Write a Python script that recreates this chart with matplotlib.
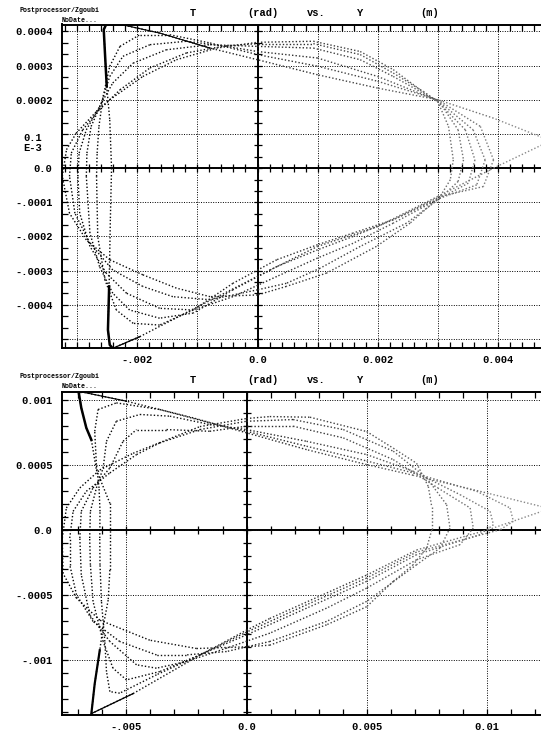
import numpy as np
import matplotlib
matplotlib.use('Agg')
import matplotlib.pyplot as plt
from matplotlib.collections import LineCollection
from matplotlib.ticker import FixedLocator, FixedFormatter, MultipleLocator

plt.rcParams['font.family'] = ['Liberation Mono', 'DejaVu Sans Mono']
plt.rcParams['font.weight'] = 'bold'

# ---- top panel: T (1e-3 rad) vs Y (1e-4 m) ----
top_d0_x = [-3.25, -3.18, -3.02, -2.68, -2.46, -1.91, -1.35, -0.68, 0.0, 0.93, 1.71, 2.26, 2.71, 3.0, 3.18,
            3.26, 3.21, 3.04, 2.54, 1.98, 1.15, 0.48, 0.0, -0.79, -1.35, -1.91, -2.46, -2.85, -3.13, -3.25]
top_d0_y = [-0.24, 0.54, 1.02, 1.66, 2.0, 2.68, 3.17, 3.51, 3.68, 3.71, 3.41, 2.88, 2.29, 1.95, 1.22,
            0.24, -0.34, -0.83, -1.61, -2.29, -3.07, -3.46, -3.71, -3.76, -3.51, -3.12, -2.68, -2.10, -1.32, -0.24]

top_c1_x = [-3.13, -3.1, -2.91, -2.63, -2.29, -1.79, -1.18, -0.52, 0.0, 0.93, 1.71, 2.26, 2.76, 3.04, 3.34,
            3.43, 3.34, 3.04, 2.48, 1.71, 1.04, 0.48, 0.0, -0.79, -1.41, -1.91, -2.41, -2.79, -3.04, -3.13]
top_c1_y = [-0.24, 0.44, 1.12, 1.71, 2.29, 2.93, 3.37, 3.58, 3.64, 3.64, 3.32, 2.78, 2.24, 1.90, 1.12,
            0.24, -0.39, -0.88, -1.61, -2.29, -2.93, -3.37, -3.56, -3.85, -3.76, -3.46, -2.98, -2.20, -1.32, -0.24]

top_c2_x = [-2.99, -2.97, -2.85, -2.63, -2.41, -2.07, -1.52, -0.79, 0.0, 0.93, 1.71, 2.26, 3.0, 3.46, 3.62,
            3.51, 3.04, 2.26, 1.59, 1.0, 0.32, -0.41, -1.07, -1.63, -2.18, -2.52, -2.79, -2.96, -2.99]
top_c2_y = [-0.24, 0.44, 1.12, 1.80, 2.49, 3.07, 3.46, 3.61, 3.56, 3.51, 3.17, 2.68, 1.95, 1.12, 0.24,
            -0.44, -0.88, -1.61, -2.20, -2.63, -3.17, -3.76, -4.15, -4.10, -3.66, -3.07, -2.29, -1.32, -0.24]

top_c3_x = [-2.85, -2.84, -2.77, -2.6, -2.46, -2.24, -1.79, -1.18, -0.52, 0.0, 1.0, 2.0, 3.0, 3.59, 3.79,
            3.65, 3.04, 2.26, 1.59, 1.0, 0.32, -0.41, -1.07, -1.63, -2.13, -2.41, -2.63, -2.79, -2.85]
top_c3_y = [-0.24, 0.44, 1.22, 1.90, 2.68, 3.27, 3.61, 3.71, 3.56, 3.41, 3.22, 2.68, 1.98, 1.12, 0.24,
            -0.49, -0.88, -1.51, -2.0, -2.39, -2.88, -3.56, -4.24, -4.39, -4.15, -3.66, -2.88, -1.90, -0.24]

top_c4_x = [-2.68, -2.67, -2.64, -2.57, -2.46, -2.29, -1.96, -1.46, -0.79, 0.0, 1.0, 2.0, 3.0, 3.71, 3.93,
            3.76, 3.04, 2.26, 1.59, 1.0, 0.32, -0.41, -1.07, -1.63, -2.07, -2.35, -2.54, -2.66, -2.68]
top_c4_y = [-0.24, 0.44, 1.22, 2.10, 2.98, 3.56, 3.90, 3.90, 3.66, 3.32, 2.98, 2.54, 2.0, 1.22, 0.24,
            -0.54, -0.83, -1.51, -1.90, -2.24, -2.68, -3.37, -4.15, -4.59, -4.54, -4.15, -3.27, -2.0, -0.24]

top_outer_x = [-2.27, -2.52, -2.56, -2.54, -2.51, -2.46, -2.43, -2.45, -2.47, -2.49, -2.46, -2.41,
               -1.96, -0.99, 0.21, 1.0, 2.0, 3.0, 3.93, 4.75,
               4.75, 3.93, 3.0, 2.0, 1.0, 0.0, -0.79, -1.63, -2.27]
top_outer_y = [4.2, 4.2, 4.05, 3.37, 2.39, 1.41, 0.0, -1.51, -3.46, -4.73, -5.17, -5.27,
               -4.93, -4.05, -2.98, -2.29, -1.71, -0.83, 0.0, 0.69,
               0.89, 1.46, 2.0, 2.34, 2.73, 3.17, 3.51, 3.95, 4.2]

top_xgrid = [-3, -2, -1, 0, 1, 2, 3, 4]
top_xlabels = ['', '-.002', '', '0.0', '', '0.002', '', '0.004']
top_ygrid = [-5, -4, -3, -2, -1, 0, 1, 2, 3, 4]
top_ylabels = ['', '-.0004', '-.0003', '-.0002', '-.0001', '0.0', '', '0.0002', '0.0003', '0.0004']

# ---- bottom panel ----
bot_d0_x = [-7.67, -7.5, -6.94, -6.11, -4.72, -1.94, 0.0, 0.97, 2.64, 5.0, 6.11, 7.08, 7.57, 7.71, 7.71,
            7.5, 6.94, 6.11, 5.0, 3.33, 0.97, 0.0, -2.08, -4.03, -6.11, -7.08, -7.64, -7.67]
bot_d0_y = [-0.64, 1.67, 3.21, 4.59, 5.87, 7.92, 8.54, 8.69, 8.64, 7.54, 6.26, 5.10, 3.31, 1.77, -0.03,
            -1.41, -2.69, -3.97, -5.92, -7.31, -8.87, -9.0, -9.13, -8.49, -6.95, -5.26, -3.36, -0.64]

bot_c1_x = [-7.36, -7.22, -6.67, -5.69, -4.58, -3.61, -1.94, 0.0, 1.94, 4.03, 6.11, 7.5, 8.33, 8.47,
            8.06, 7.08, 5.0, 3.33, 0.97, -0.83, -2.5, -3.75, -5.28, -6.39, -7.08, -7.36, -7.36]
bot_c1_y = [-0.64, 1.41, 2.95, 4.36, 5.77, 6.67, 7.69, 8.33, 8.46, 7.69, 6.03, 3.97, 1.92, 0.13,
            -1.41, -2.69, -5.51, -7.05, -8.59, -9.36, -9.62, -9.62, -8.59, -7.05, -5.0, -2.69, -0.64]

bot_c2_x = [-6.94, -6.88, -6.39, -5.69, -5.14, -4.58, -3.33, -1.53, 0.0, 1.94, 4.03, 6.11, 7.96, 9.31,
            9.44, 8.89, 7.08, 5.0, 3.33, 0.97, -0.83, -2.5, -3.75, -4.58, -5.69, -6.53, -6.88, -6.94]
bot_c2_y = [-0.64, 1.41, 3.21, 4.74, 6.79, 7.69, 7.69, 7.56, 7.95, 7.95, 7.05, 5.38, 3.21, 1.67,
            0.13, -1.15, -2.31, -4.49, -6.03, -7.95, -9.10, -10.13, -10.64, -10.38, -8.59, -6.54, -3.46, -0.64]

bot_c3_x = [-6.53, -6.5, -6.25, -5.97, -5.83, -5.42, -4.44, -3.19, -1.53, 0.0, 2.5, 5.0, 6.94, 8.89, 10.14,
            10.28, 9.72, 7.08, 5.0, 2.5, 0.0, -1.94, -3.61, -5.0, -5.56, -5.97, -6.39, -6.5, -6.53]
bot_c3_y = [-0.64, 1.41, 3.21, 4.74, 6.79, 8.33, 8.85, 8.72, 8.08, 7.69, 6.79, 5.77, 4.49, 2.69, 1.41,
            0.38, -0.38, -1.92, -3.97, -6.03, -8.08, -9.62, -10.90, -11.54, -10.64, -8.59, -5.51, -2.69, -0.64]

bot_c4_x = [-6.11, -6.10, -6.14, -6.25, -6.32, -6.18, -5.42, -3.61, -1.53, 0.0, 2.5, 5.0, 6.94, 9.58, 10.97,
            11.11, 10.56, 7.08, 5.0, 2.5, 0.0, -1.94, -3.75, -5.28, -5.69, -5.83, -5.90, -6.04, -6.10, -6.11]
bot_c4_y = [-0.64, 1.41, 3.21, 5.0, 7.56, 9.23, 9.74, 9.23, 8.21, 7.56, 6.41, 5.28, 4.36, 2.95, 1.67,
            0.64, 0.0, -1.72, -3.72, -5.77, -7.87, -9.62, -11.15, -12.56, -12.44, -10.90, -8.59, -5.51, -2.69, -0.64]

bot_outer_x = [-6.99, -6.88, -6.67, -6.46, -6.25, -5.69, -5.69, -5.69, -5.76, -5.97, -6.11, -6.32, -6.46,
               -4.72, -1.94, 0.0, 0.97, 5.0, 7.08, 10.07, 12.3,
               12.3, 10.07, 6.94, 5.0, 2.5, 0.0, -2.22, -5.0, -6.88, -6.99]
bot_outer_y = [10.59, 9.36, 7.82, 6.9, 4.59, 2.03, -0.54, -3.10, -5.41, -7.46, -9.26, -11.82, -14.13,
               -12.59, -9.64, -7.72, -6.82, -3.49, -1.56, 0.0, 1.41,
               1.77, 2.79, 4.18, 5.0, 6.15, 7.44, 8.59, 9.87, 10.59, 10.59]

bot_xgrid = [-5, 0, 5, 10]
bot_xlabels = ['-.005', '0.0', '0.005', '0.01']
bot_ygrid = [-10, -5, 0, 5, 10]
bot_ylabels = ['-.001', '-.0005', '0.0', '0.0005', '0.001']

SX = 1e-3
SY = 1e-4


def draw_curve(ax, xs, ys, xlim, lw=1.0):
    pts = np.column_stack([np.asarray(xs) * SX, np.asarray(ys) * SY])
    segs = np.stack([pts[:-1], pts[1:]], axis=1)
    mid = (pts[:-1, 0] + pts[1:, 0]) / 2
    f = np.clip((mid - xlim[0] * SX) / ((xlim[1] - xlim[0]) * SX), 0, 1)
    g = 0.58 * f ** 1.5
    lc = LineCollection(segs, colors=[(v, v, v) for v in g], linewidths=lw,
                        linestyles=[(0, (1, 1.5))], zorder=4)
    ax.add_collection(lc)


def setup(ax, xlim, ylim, xgrid, xlabels, ygrid, ylabels, xminor, yminor):
    ax.set_xlim(xlim[0] * SX, xlim[1] * SX)
    ax.set_ylim(ylim[0] * SY, ylim[1] * SY)
    ax.xaxis.set_major_locator(FixedLocator([v * SX for v in xgrid]))
    ax.xaxis.set_major_formatter(FixedFormatter(xlabels))
    ax.yaxis.set_major_locator(FixedLocator([v * SY for v in ygrid]))
    ax.yaxis.set_major_formatter(FixedFormatter(ylabels))
    ax.xaxis.set_minor_locator(MultipleLocator(xminor * SX))
    ax.yaxis.set_minor_locator(MultipleLocator(yminor * SY))
    ax.tick_params(which='both', direction='in', top=True, right=False, length=4, width=0.9,
                   labelsize=7.5, colors='k')
    ax.tick_params(axis='y', pad=7)
    ax.tick_params(axis='x', pad=5)
    ax.grid(True, which='major', color='k', ls=(0, (1, 1.5)), lw=0.7)
    for s in ax.spines.values():
        s.set_linewidth(1.4)
    ax.spines['right'].set_visible(False)
    ax.axhline(0, color='k', lw=1.4, zorder=3)
    ax.axvline(0, color='k', lw=1.4, zorder=3)
    xm = np.arange(np.ceil(xlim[0] / xminor), np.floor(xlim[1] / xminor) + 1) * xminor * SX
    ym = np.arange(np.ceil(ylim[0] / yminor), np.floor(ylim[1] / yminor) + 1) * yminor * SY
    ax.plot(xm, np.zeros_like(xm), ls='', marker='|', ms=6, mew=0.9, color='k', zorder=3)
    ax.plot(np.zeros_like(ym), ym, ls='', marker='_', ms=6, mew=0.9, color='k', zorder=3)


fig = plt.figure(figsize=(5.41, 7.31), dpi=100)
W, H = 541.0, 731.0

ax1 = fig.add_axes([62.3 / W, 1 - 348.3 / H, (W - 62.3) / W, 323.8 / H])
ax2 = fig.add_axes([62.3 / W, 1 - 715.3 / H, (W - 62.3) / W, 323.6 / H])

top_xlim = (-3.25, 4.72)
top_ylim = (-5.27, 4.2)
bot_xlim = (-7.67, 12.26)
bot_ylim = (-14.26, 10.6)

setup(ax1, top_xlim, top_ylim, top_xgrid, top_xlabels, top_ygrid, top_ylabels, 0.2, 1 / 3)
setup(ax2, bot_xlim, bot_ylim, bot_xgrid, bot_xlabels, bot_ygrid, bot_ylabels, 1.0, 1.0)

for xs, ys in [(top_d0_x, top_d0_y), (top_c1_x, top_c1_y), (top_c2_x, top_c2_y),
               (top_c3_x, top_c3_y), (top_c4_x, top_c4_y), (top_outer_x, top_outer_y)]:
    draw_curve(ax1, xs, ys, top_xlim)
tx = np.array(top_outer_x) * SX
ty = np.array(top_outer_y) * SY
ax1.plot(tx[:5], ty[:5], color='k', lw=1.8, zorder=5)
ax1.plot(tx[8:12], ty[8:12], color='k', lw=1.8, zorder=5)
ax1.plot(tx[11:13], ty[11:13], color='k', lw=0.9, zorder=5)
ax1.plot(tx[-3:], ty[-3:], color='k', lw=0.8, zorder=5)

for xs, ys in [(bot_d0_x, bot_d0_y), (bot_c1_x, bot_c1_y), (bot_c2_x, bot_c2_y),
               (bot_c3_x, bot_c3_y), (bot_c4_x, bot_c4_y), (bot_outer_x, bot_outer_y)]:
    draw_curve(ax2, xs, ys, bot_xlim)
bx = np.array(bot_outer_x) * SX
by = np.array(bot_outer_y) * SY
ax2.plot(bx[:4], by[:4], color='k', lw=1.8, zorder=5)
ax2.plot(bx[10:13], by[10:13], color='k', lw=1.6, zorder=5)
ax2.plot(bx[12:14], by[12:14], color='k', lw=0.9, zorder=5)
ax2.plot(bx[-3:], by[-3:], color='k', lw=0.8, zorder=5)

# special "0.1 E-3" label of the top panel
ax1.text(-0.0612, 1.04 * SY, '0.1\nE-3', transform=ax1.get_yaxis_transform(), ha='center', va='top',
         fontsize=7.5, linespacing=1.0, clip_on=False)

# headers
for y0 in (0, 367):
    fig.text(20 / W, 1 - (10 + y0) / H, 'Postprocessor/Zgoubi', fontsize=4.8, va='center', ha='left')
    fig.text(62 / W, 1 - (20 + y0) / H, 'NoDate...', fontsize=4.8, va='center', ha='left')
    for word, xc in [('T', 193), ('(rad)', 263), ('vs.', 316), ('Y', 360), ('(m)', 430)]:
        fig.text(xc / W, 1 - (13 + y0) / H, word, fontsize=7.5, ha='center', va='center')

fig.savefig('out.png', dpi=100)
